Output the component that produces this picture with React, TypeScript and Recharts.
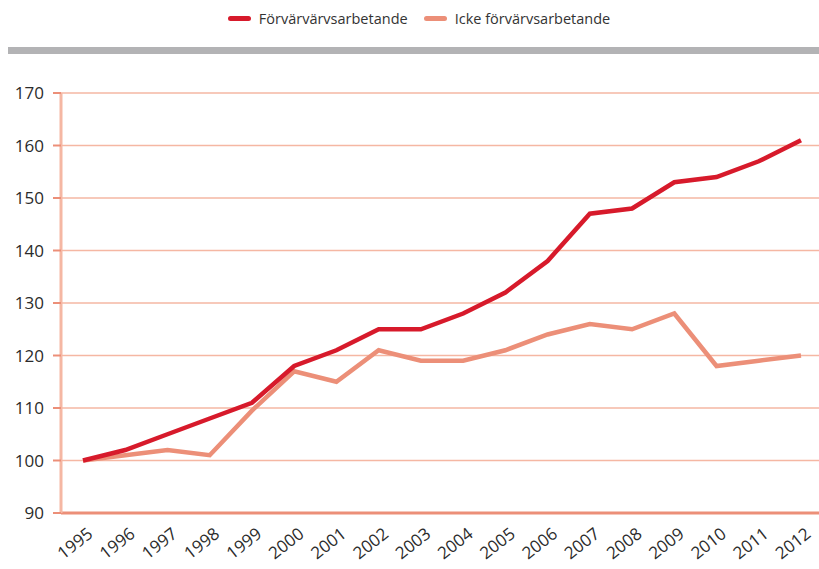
import { LineChart, Line, XAxis, YAxis, CartesianGrid } from 'recharts';

const years = ['1995', '1996', '1997', '1998', '1999', '2000', '2001', '2002', '2003', '2004', '2005', '2006', '2007', '2008', '2009', '2010', '2011', '2012'];
const forvarvsarbetande = [100, 102, 105, 108, 111, 118, 121, 125, 125, 128, 132, 138, 147, 148, 153, 154, 157, 161];
const ickeForvarvsarbetande = [100, 101, 102, 101, 109.5, 117, 115, 121, 119, 119, 121, 124, 126, 125, 128, 118, 119, 120];
const yTicks = [90, 100, 110, 120, 130, 140, 150, 160, 170];

const data = years.map((year, i) => ({
  year,
  forv: forvarvsarbetande[i],
  icke: ickeForvarvsarbetande[i],
}));

const RED = '#d71a2b';
const SALMON = '#ec8f78';
const GRID = '#f5b7a3';
const FONT = '"Open Sans", sans-serif';

const XTick = ({ x, y, payload }: any) => (
  <g transform={`translate(${x + 11},${y + 15}) rotate(-38)`}>
    <text x={0} y={0} textAnchor="end" fill="#2b2b2b" fontSize={17} fontFamily={FONT}>
      {payload.value}
    </text>
  </g>
);

const legendItems = [
  { label: 'Förvärvärvsarbetande', color: RED },
  { label: 'Icke förvärvsarbetande', color: SALMON },
];

export default function App() {
  return (
    <div style={{ position: 'absolute', left: 0, top: 0, width: 819, height: 569, background: '#fff' }}>
      <div
        style={{
          position: 'absolute', left: 0, top: 9, width: 838, display: 'flex', justifyContent: 'center',
          gap: 16, fontFamily: FONT, fontSize: 14.5, color: '#333',
        }}
      >
        {legendItems.map((item) => (
          <div key={item.label} style={{ display: 'flex', alignItems: 'center', gap: 8 }}>
            <span style={{ display: 'inline-block', width: 23, height: 5, borderRadius: 3, background: item.color }} />
            <span>{item.label}</span>
          </div>
        ))}
      </div>
      <div style={{ position: 'absolute', left: 8, top: 47, width: 811, height: 7, background: '#b3b3b5' }} />
      <LineChart width={819} height={569} data={data} margin={{ top: 93, right: 0, left: 0, bottom: 0 }}>
        <CartesianGrid vertical={false} stroke={GRID} strokeWidth={1.5} />
        <XAxis
          dataKey="year"
          padding={{ left: 22, right: 18 }}
          axisLine={{ stroke: SALMON, strokeWidth: 3 }}
          tickLine={false}
          tick={<XTick />}
          interval={0}
          height={56}
        />
        <YAxis
          domain={[90, 170]}
          ticks={yTicks}
          width={61}
          axisLine={{ stroke: GRID, strokeWidth: 3 }}
          tickLine={{ stroke: SALMON, strokeWidth: 2 }}
          tickSize={8}
          tickMargin={9}
          tick={{ fill: '#2b2b2b', fontSize: 17, fontFamily: FONT }}
        />
        <Line
          type="linear"
          dataKey="icke"
          stroke={SALMON}
          strokeWidth={4.5}
          dot={false}
          isAnimationActive={false}
        />
        <Line
          type="linear"
          dataKey="forv"
          stroke={RED}
          strokeWidth={4.5}
          dot={false}
          isAnimationActive={false}
        />
      </LineChart>
    </div>
  );
}
